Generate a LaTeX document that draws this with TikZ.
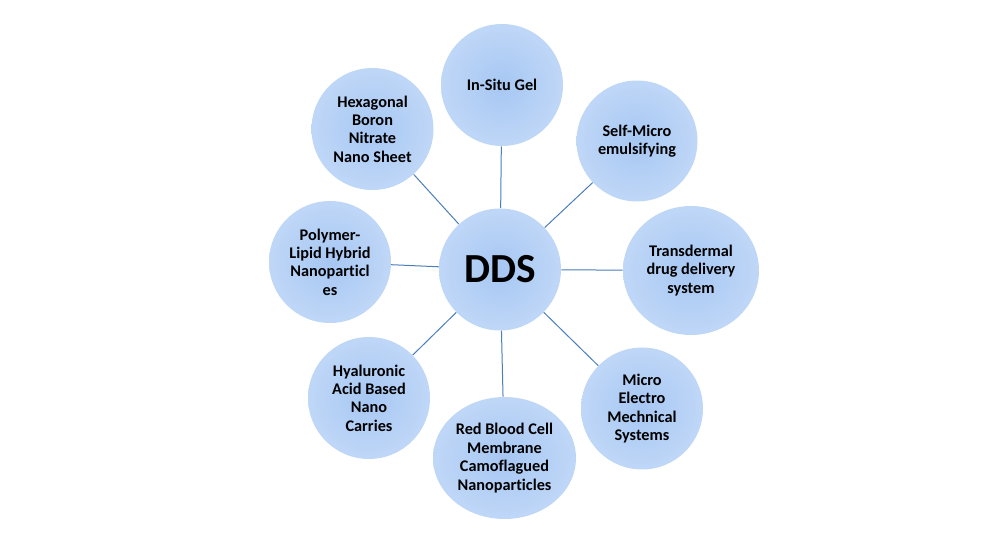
\documentclass[tikz,border=0pt]{standalone}
\usepackage{fontspec}
\setmainfont{Carlito}[Ligatures=NoCommon]
\usetikzlibrary{shapes.geometric}
\definecolor{bubin}{RGB}{166,199,243}
\definecolor{bubout}{RGB}{217,231,251}
\definecolor{linkcol}{RGB}{74,126,187}
\pgfdeclareradialshading{bubshade}{\pgfpoint{0bp}{0bp}}{color(0bp)=(bubin); color(50bp)=(bubout); color(100bp)=(bubout)}
\tikzset{
  bubble/.style={circle, draw=none, shading=bubshade, inner sep=0pt, minimum size=91.5pt,
    align=center, font=\fontsize{12.2pt}{13.8pt}\selectfont\bfseries, text=black},
  ebubble/.style={bubble, ellipse},
  link/.style={draw=linkcol, line width=0.75pt}
}
\begin{document}
\begin{tikzpicture}[x=0.75pt,y=-0.75pt]
\useasboundingbox (0,0) rectangle (1008,541);
\node[bubble, font=\fontsize{31pt}{36pt}\selectfont\bfseries] (dds) at (500,269.5) {DDS};
\node[bubble] (gel) at (502,85) {In-Situ Gel};
\node[bubble, minimum size=90.75pt] (self) at (637,141) {Self-Micro\\emulsifying};
\node[ebubble, minimum width=102pt, minimum height=96.75pt] (trans) at (691,270.5) {Transdermal\\drug delivery\\system};
\node[bubble] (mems) at (642,408.5) {Micro\\Electro\\Mechnical\\Systems};
\node[ebubble, minimum width=107.25pt, minimum height=91.5pt] (rbc) at (504.5,458) {Red Blood Cell\\Membrane\\Camoflagued\\Nanoparticles};
\node[bubble] (hyal) at (369,398) {Hyaluronic\\Acid Based\\Nano\\Carries};
\node[bubble] (poly) at (330,262) {Polymer-\\Lipid Hybrid\\Nanoparticl\\es};
\node[bubble] (hex) at (372.5,129) {Hexagonal\\Boron\\Nitrate\\Nano Sheet};
\foreach \t in {gel,self,trans,mems,rbc,hyal,poly,hex}
  \draw[link] (dds) -- (\t);
\end{tikzpicture}
\end{document}
